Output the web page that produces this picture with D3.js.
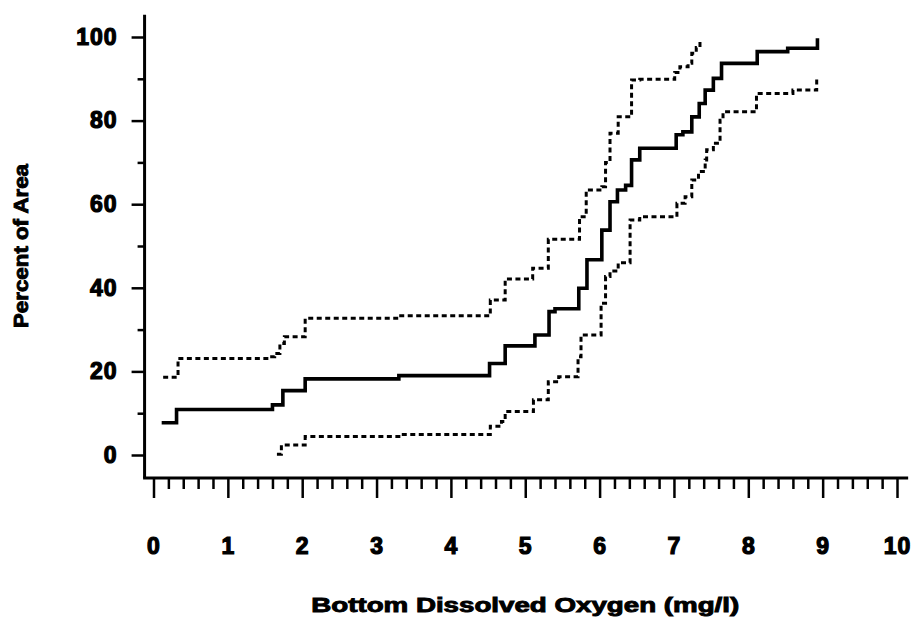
<!DOCTYPE html>
<html>
<head>
<meta charset="utf-8">
<script src="https://cdn.jsdelivr.net/npm/d3@7"></script>
<style>
  html, body { margin: 0; padding: 0; background: #fff; }
  svg { display: block; }
  text { font-family: "Liberation Sans", Arial, Helvetica, sans-serif; font-weight: 700; fill: #000; }
</style>
</head>
<body>
<svg id="chart" width="914" height="624"></svg>
<script>
// Cumulative distribution of bottom dissolved oxygen (percent of area at or below a value),
// with lower and upper confidence bounds. Each pair is [DO mg/l, percent] where a step begins.
const medianX = [0.11, 0.31, 1.60, 1.74, 2.04, 3.30, 4.52, 4.73, 5.13, 5.32, 5.40, 5.72, 5.83, 6.03, 6.14, 6.24, 6.35, 6.43, 6.54, 7.03, 7.12, 7.24, 7.34, 7.42, 7.53, 7.64, 8.12, 8.53, 8.93, 8.93];
const medianY = [7.7, 10.9, 12.0, 15.4, 18.2, 19.0, 21.9, 26.1, 28.7, 34.3, 35.0, 39.9, 46.7, 53.8, 60.6, 63.4, 64.5, 70.6, 73.4, 76.6, 77.3, 80.9, 84.1, 87.3, 90.1, 93.7, 96.5, 97.3, 97.3, 99.7];

const upperX = [0.13, 0.33, 1.55, 1.63, 1.70, 1.76, 2.04, 3.30, 4.53, 4.73, 5.10, 5.31, 5.73, 5.82, 6.03, 6.08, 6.14, 6.25, 6.43, 6.54, 7.01, 7.08, 7.19, 7.24, 7.30, 7.35];
const upperY = [18.6, 23.1, 23.5, 24.3, 26.7, 28.3, 32.7, 33.3, 37.1, 42.1, 44.7, 51.6, 57.0, 63.4, 64.2, 70.0, 77.0, 80.9, 89.7, 89.9, 91.5, 92.9, 93.7, 96.1, 97.5, 98.9];

const lowerX = [1.66, 1.72, 2.04, 3.30, 4.53, 4.68, 4.73, 5.11, 5.31, 5.45, 5.71, 5.75, 6.02, 6.08, 6.14, 6.25, 6.41, 6.54, 7.04, 7.15, 7.24, 7.33, 7.42, 7.44, 7.53, 7.62, 7.66, 8.11, 8.60, 8.92, 8.92];
const lowerY = [0.2, 2.4, 4.4, 4.9, 6.9, 8.0, 10.4, 13.2, 17.5, 18.7, 23.5, 28.7, 36.3, 42.7, 44.0, 46.0, 56.2, 57.0, 60.2, 61.8, 65.8, 67.8, 70.6, 73.0, 74.6, 80.1, 82.1, 86.5, 87.3, 88.1, 90.1];

const xTicks = [0, 1, 2, 3, 4, 5, 6, 7, 8, 9, 10];
const yTicks = [0, 20, 40, 60, 80, 100];
const xTitle = "Bottom Dissolved Oxygen (mg/l)";
const yTitle = "Percent of Area";

const svg = d3.select("#chart");

const x = d3.scaleLinear().domain([0, 10]).range([153.5, 897]);
const y = d3.scaleLinear().domain([0, 100]).range([455, 37]);

const zip = (xs, ys) => xs.map((v, i) => [v, ys[i]]);

// Axis frame lines
const axisG = svg.append("g").attr("stroke", "#000").attr("stroke-width", 3).attr("fill", "none");
axisG.append("line")
  .attr("x1", x(-0.12)).attr("x2", x(-0.12))
  .attr("y1", y(105.3)).attr("y2", y(-5.5));
axisG.append("line")
  .attr("x1", x(-0.14)).attr("x2", x(10.15))
  .attr("y1", y(-5.5)).attr("y2", y(-5.5));

const styleLabels = g => g.selectAll("text")
  .attr("font-size", 23).attr("letter-spacing", 1)
  .attr("stroke", "#000").attr("stroke-width", 1.2)
  .attr("fill", "#000");

// X axis ticks: majors every 1, minors every 0.2
const xMinor = d3.range(0, 10.001, 0.2).filter(v => Math.abs(v - Math.round(v)) > 1e-6);
const xAxisY = y(-5.5);
svg.append("g")
  .attr("transform", `translate(0,${xAxisY})`)
  .call(d3.axisBottom(x).tickValues(xMinor).tickSize(11).tickSizeOuter(0).tickFormat(""))
  .call(g => g.select(".domain").remove())
  .call(g => g.selectAll("line").attr("stroke-width", 2.5));
svg.append("g")
  .attr("transform", `translate(0,${xAxisY})`)
  .call(d3.axisBottom(x).tickValues(xTicks).tickSize(20).tickSizeOuter(0).tickPadding(40).tickFormat(d3.format("d")))
  .call(g => g.select(".domain").remove())
  .call(g => g.selectAll("line").attr("stroke-width", 2.5))
  .call(styleLabels);

// Y axis ticks: majors every 20, minors every 10
const yAxisX = x(-0.12);
svg.append("g")
  .attr("transform", `translate(${yAxisX},0)`)
  .call(d3.axisLeft(y).tickValues([10, 30, 50, 70, 90]).tickSize(7).tickSizeOuter(0).tickFormat(""))
  .call(g => g.select(".domain").remove())
  .call(g => g.selectAll("line").attr("stroke-width", 2.5));
svg.append("g")
  .attr("transform", `translate(${yAxisX},0)`)
  .call(d3.axisLeft(y).tickValues(yTicks).tickSize(13).tickSizeOuter(0).tickPadding(14).tickFormat(d3.format("d")))
  .call(g => g.select(".domain").remove())
  .call(g => g.selectAll("line").attr("stroke-width", 2.5))
  .call(styleLabels);

// Step curves
const line = d3.line()
  .x(d => x(d[0]))
  .y(d => y(d[1]))
  .curve(d3.curveStepAfter);

svg.append("path")
  .datum(zip(upperX, upperY))
  .attr("d", line)
  .attr("fill", "none").attr("stroke", "#000")
  .attr("stroke-width", 3).attr("stroke-dasharray", "5,3.5");

svg.append("path")
  .datum(zip(lowerX, lowerY))
  .attr("d", line)
  .attr("fill", "none").attr("stroke", "#000")
  .attr("stroke-width", 3).attr("stroke-dasharray", "5,3.5");

svg.append("path")
  .datum(zip(medianX, medianY))
  .attr("d", line)
  .attr("fill", "none").attr("stroke", "#000")
  .attr("stroke-width", 3.6);

// Axis titles
svg.append("text")
  .attr("x", x(5)).attr("y", 612)
  .attr("text-anchor", "middle")
  .attr("font-size", 20)
  .attr("stroke", "#000").attr("stroke-width", 0.9)
  .attr("textLength", 428).attr("lengthAdjust", "spacingAndGlyphs")
  .text(xTitle);

svg.append("text")
  .attr("transform", `translate(28,${y(50)}) rotate(-90)`)
  .attr("text-anchor", "middle")
  .attr("font-size", 20)
  .attr("stroke", "#000").attr("stroke-width", 0.9)
  .attr("textLength", 164).attr("lengthAdjust", "spacingAndGlyphs")
  .text(yTitle);
</script>
</body>
</html>
